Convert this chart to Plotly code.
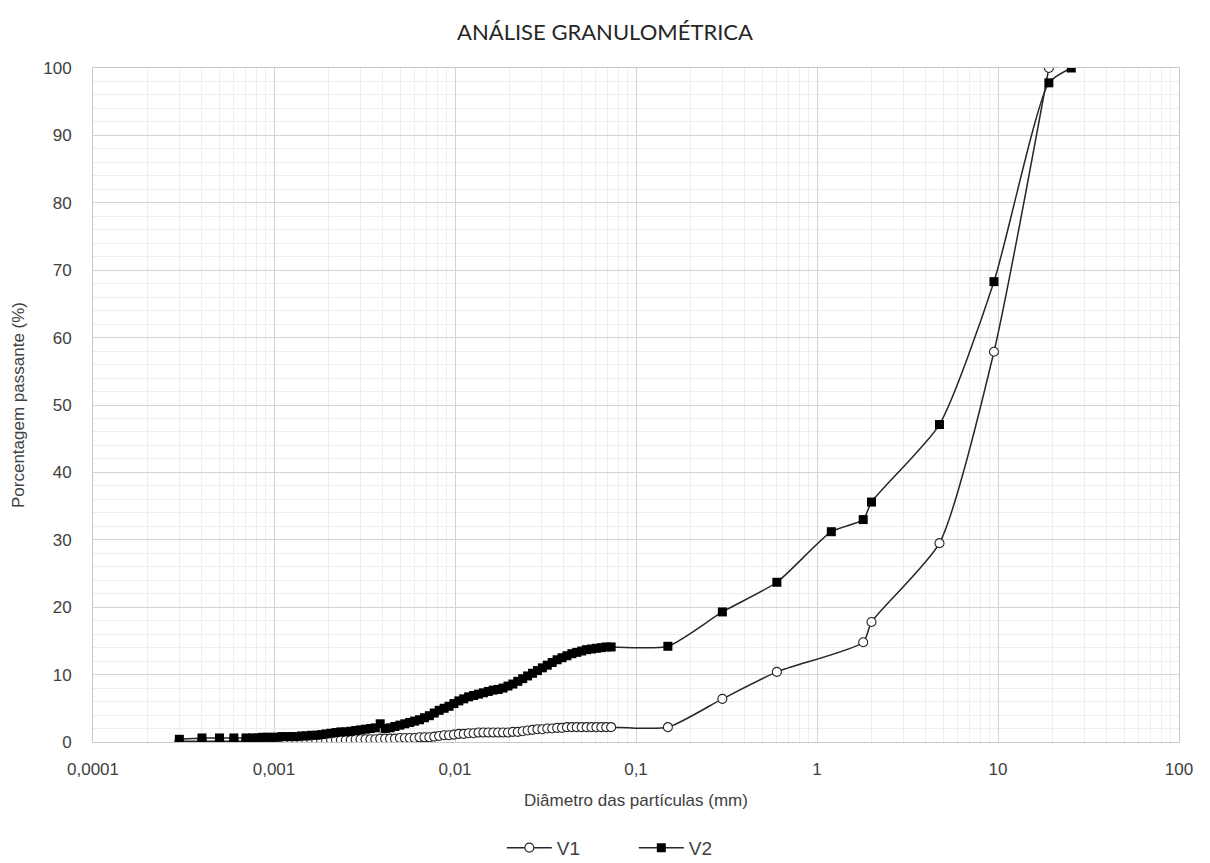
import plotly.graph_objects as go

# ---------------- data ----------------
# fine fraction (sedimentation / laser) – diameters in mm
fine_x = [0.0003, 0.0004, 0.0005, 0.0006, 0.0007,
          0.00076, 0.000809, 0.000861, 0.000917, 0.000976, 0.001039, 0.001106, 0.001177,
          0.001253, 0.001334, 0.001420, 0.001512, 0.001609, 0.001713, 0.001824, 0.001941,
          0.002067, 0.002200, 0.002342, 0.002493, 0.002654, 0.002825, 0.003007, 0.003201,
          0.003408, 0.003628, 0.003862, 0.004111, 0.004376, 0.004658, 0.004959, 0.005279,
          0.005619, 0.005982, 0.006368, 0.006778, 0.007215, 0.007681, 0.008176, 0.008704,
          0.009265, 0.009863, 0.010499, 0.011176, 0.011897, 0.012665, 0.013482, 0.014351,
          0.015277, 0.016262, 0.017311, 0.018428, 0.019617, 0.020882, 0.022229, 0.023663,
          0.025189, 0.026814, 0.028543, 0.030384, 0.032344, 0.034430, 0.036651, 0.039015,
          0.041532, 0.044210, 0.047062, 0.050098, 0.053329, 0.056769, 0.060431, 0.064329,
          0.068478, 0.072895]

v1_fine_y = [0.1, 0.1, 0.1, 0.1, 0.1,
             0.1, 0.1, 0.1, 0.1, 0.1, 0.1, 0.1, 0.1, 0.1, 0.1, 0.1,
             0.2, 0.2, 0.2, 0.2, 0.2,
             0.3, 0.3, 0.3, 0.3, 0.3,
             0.4, 0.4, 0.4, 0.4, 0.4,
             0.5, 0.5, 0.5, 0.5,
             0.6, 0.6, 0.6, 0.6,
             0.7, 0.7, 0.7,
             0.8, 0.9, 1.0, 1.0, 1.1, 1.2, 1.2, 1.3, 1.3,
             1.4, 1.4, 1.4, 1.4, 1.4, 1.4, 1.4,
             1.5, 1.5, 1.6, 1.7, 1.8, 1.9, 1.9, 2.0, 2.0, 2.1, 2.1,
             2.2, 2.2, 2.2, 2.2, 2.2, 2.2, 2.2, 2.2, 2.2, 2.2]

v2_fine_y = [0.4, 0.6, 0.6, 0.6, 0.6,
             0.6, 0.6, 0.7, 0.7, 0.7, 0.7, 0.8, 0.8, 0.8, 0.8, 0.9,
             0.9, 1.0, 1.0, 1.1, 1.2, 1.3, 1.4, 1.5, 1.5,
             1.6, 1.7, 1.8, 1.9, 2.0, 2.1, 2.7, 2.0, 2.1, 2.3,
             2.5, 2.7, 2.9, 3.1, 3.3, 3.6, 3.9, 4.3, 4.7, 5.0,
             5.3, 5.7, 6.1, 6.4, 6.7, 6.9, 7.1, 7.3, 7.5, 7.7,
             7.8, 8.0, 8.3, 8.6, 9.0, 9.4, 9.8, 10.2, 10.6, 11.0,
             11.4, 11.8, 12.2, 12.5, 12.8, 13.1, 13.3, 13.5, 13.7, 13.8,
             13.9, 14.0, 14.1, 14.1]

# sieve fraction
v1_sieve_x = [0.15, 0.3, 0.6, 1.8, 2.0, 4.75, 9.5, 19.1]
v1_sieve_y = [2.2, 6.4, 10.4, 14.8, 17.8, 29.5, 57.9, 100.0]

v2_sieve_x = [0.15, 0.3, 0.6, 1.2, 1.8, 2.0, 4.75, 9.5, 19.1, 25.4]
v2_sieve_y = [14.2, 19.3, 23.7, 31.2, 33.0, 35.6, 47.1, 68.3, 97.8, 100.0]

x_tick_vals = [0.0001, 0.001, 0.01, 0.1, 1, 10, 100]
x_tick_text = ["0,0001", "0,001", "0,01", "0,1", "1", "10", "100"]

# ---------------- figure ----------------
ink = "#262626"
txt = "#404040"
sans = "Liberation Sans"

fig = go.Figure()
fig.add_trace(go.Scatter(
    x=fine_x + v1_sieve_x, y=v1_fine_y + v1_sieve_y, name="V1",
    mode="lines+markers",
    line=dict(color=ink, width=1.5, shape="spline", smoothing=0.6),
    marker=dict(symbol="circle", size=9, color="white",
                line=dict(color=ink, width=1.1)),
))
fig.add_trace(go.Scatter(
    x=fine_x + v2_sieve_x, y=v2_fine_y + v2_sieve_y, name="V2",
    mode="lines+markers",
    line=dict(color=ink, width=1.5, shape="spline", smoothing=0.6),
    marker=dict(symbol="square", size=9, color="black",
                line=dict(color="black", width=0)),
))

minor_x = [m * 10 ** e for e in range(-4, 2) for m in range(2, 10)]

fig.update_layout(
    width=1210, height=863,
    margin=dict(l=93, r=31, t=68, b=121, autoexpand=False),
    paper_bgcolor="white", plot_bgcolor="white",
    title=dict(text="ANÁLISE GRANULOMÉTRICA", x=0.5, xanchor="center",
               y=0.962, yanchor="middle",
               font=dict(family="Lato", size=22, color="#262626")),
    font=dict(family=sans, size=17, color=txt),
    showlegend=True,
    legend=dict(orientation="h", x=0.498, xanchor="center", y=-0.157, yanchor="middle",
                font=dict(family=sans, size=19, color=txt), itemwidth=45,
                entrywidth=72),
)

fig.update_xaxes(
    type="log", range=[-4, 2], automargin=False,
    tickmode="array", tickvals=x_tick_vals, ticktext=x_tick_text,
    showgrid=True, gridcolor="#d4d4d4", gridwidth=1,
    minor=dict(tickmode="array", tickvals=minor_x, showgrid=True,
               gridcolor="#eeeeee", gridwidth=1, ticks=""),
    showline=True, linecolor="#c8c8c8", linewidth=1, mirror=True,
    ticks="", zeroline=False, ticklabelstandoff=12,
    title=dict(text="Diâmetro das partículas (mm)",
               font=dict(family=sans, size=17, color=txt), standoff=15),
    tickfont=dict(family=sans, size=17, color=txt),
)
fig.update_yaxes(
    range=[0, 100], dtick=10, automargin=False,
    showgrid=True, gridcolor="#d4d4d4", gridwidth=1,
    minor=dict(dtick=2, showgrid=True, gridcolor="#eeeeee", gridwidth=1, ticks=""),
    showline=True, linecolor="#c8c8c8", linewidth=1, mirror=True,
    ticks="", zeroline=False, ticklabelstandoff=17,
    title=dict(text="Porcentagem passante (%)",
               font=dict(family=sans, size=17, color=txt), standoff=14),
    tickfont=dict(family=sans, size=17, color=txt),
)

fig.write_html("out.html")
